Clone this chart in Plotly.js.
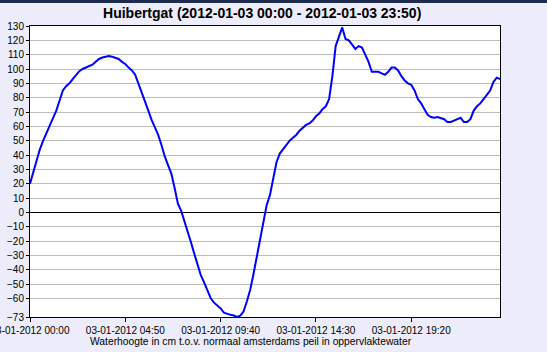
<!DOCTYPE html>
<html><head><meta charset="utf-8">
<script src="https://cdn.plot.ly/plotly-3.0.1.min.js"></script>
<style>html,body{margin:0;padding:0;background:#ECECFA;}
#band{position:absolute;left:0;top:0;width:547px;height:3px;background:#1C2B4F;z-index:10;}</style>
</head><body><div id="band"></div><div id="chart" style="width:547px;height:352px;"></div>
<script>
// water level every 10 minutes, 00:00 .. 23:50
const levels = [
20,28,36,44,50,55,60,65,71,78,
85,88,90,93,96,98.5,100,101,102,103,
105,107,108,108.5,109,108.5,108,107,105,103.5,
101,99,96,90,83,77,71,64.5,59,54,
47,39,33,27,17,6,1,-6,-14,-21,
-29,-37,-44,-49,-55,-60,-63,-65,-67,-70,
-71,-71.5,-72,-73,-72,-69,-62,-54,-43,-31,
-19,-6,5,12,24,35,41,44,47,50,
52,54,57,59,61,62,64,67,69,72,
74,79,95,116,122,129,121,120,117,114,
116,115,110,105,98,98,98,97,96,98,
101,101,99,95,92,90,89,85,79,76,
72,68,66.5,66,66.5,66,65,63,63,64,
65,66,63,63,65,71,74,76,79,82,
85,91,94,93
];
const stepMinutes = 10;
const minutes = levels.map((v, i) => i * stepMinutes);
const xTickVals = [0, 290, 580, 870, 1160];
const xTickText = ["03-01-2012 00:00","03-01-2012 04:50","03-01-2012 09:40","03-01-2012 14:30","03-01-2012 19:20"];
const yTickVals = [-73,-60,-50,-40,-30,-20,-10,0,10,20,30,40,50,60,70,80,90,100,110,120,130];
const titleText = "Huibertgat (2012-01-03 00:00 - 2012-01-03 23:50)";
const xTitleText = "Waterhoogte in cm t.o.v. normaal amsterdams peil in oppervlaktewater";

const font = "Liberation Sans, Arial, sans-serif";
const trace = {
  x: minutes, y: levels, type: "scatter", mode: "lines",
  line: {color: "#0000FF", width: 2}, hoverinfo: "none"
};
const layout = {
  width: 547, height: 352,
  margin: {l: 29.5, r: 46.5, t: 26, b: 35, pad: 0},
  paper_bgcolor: "#ECECFA", plot_bgcolor: "#FFFFFF",
  showlegend: false,
  font: {family: font, size: 10, color: "#000"},
  title: {text: titleText, font: {family: font, size: 14, color: "#000", weight: "bold"},
          x: 0.494, xref: "paper", xanchor: "center", y: 1 - 13/352, yanchor: "middle"},
  xaxis: {
    range: [0, 1430], tickvals: xTickVals, ticktext: xTickText,
    ticks: "outside", ticklen: 4, tickcolor: "#000", tickwidth: 1,
    ticklabeloverflow: "allow",
    showgrid: false, zeroline: false,
    showline: true, linecolor: "#000", linewidth: 1, mirror: true,
    tickfont: {family: font, size: 10, color: "#000"}
  },
  yaxis: {
    range: [-73, 130], tickvals: yTickVals,
    ticks: "outside", ticklen: 3, tickcolor: "#000", tickwidth: 1,
    showgrid: true, gridcolor: "#BDBDBD", gridwidth: 1,
    zeroline: true, zerolinecolor: "#000", zerolinewidth: 1,
    showline: true, linecolor: "#000", linewidth: 1, mirror: true,
    tickfont: {family: font, size: 10, color: "#000"}
  },
  annotations: [{
    text: xTitleText, xref: "paper", yref: "paper",
    x: (251 - 29.5) / 471, y: -(341 - 317) / 291, xanchor: "center", yanchor: "middle",
    showarrow: false, font: {family: font, size: 10.3, color: "#000"}
  }]
};
Plotly.newPlot("chart", [trace], layout, {displayModeBar: false, staticPlot: true});
</script></body></html>
